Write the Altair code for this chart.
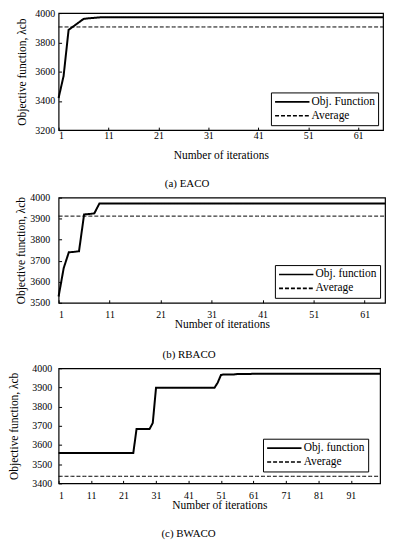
import altair as alt
import pandas as pd

FONT = "Liberation Serif"

# ---- data ----
eaco_obj = [3420, 3570, 3885, 3910, 3935, 3960, 3964, 3967, 3970, 3972,
            3972, 3972, 3972, 3972, 3972, 3972, 3972, 3972, 3972, 3972,
            3972, 3972, 3972, 3972, 3972, 3972, 3972, 3972, 3972, 3972,
            3972, 3972, 3972, 3972, 3972, 3972, 3972, 3972, 3972, 3972,
            3972, 3972, 3972, 3972, 3972, 3972, 3972, 3972, 3972, 3972,
            3972, 3972, 3972, 3972, 3972, 3972, 3972, 3972, 3972, 3972,
            3972, 3972, 3972, 3972, 3972, 3972]
eaco_avg = 3905

rbaco_obj = [3530, 3665, 3740, 3742, 3745, 3920, 3922, 3925, 3972, 3972,
             3972, 3972, 3972, 3972, 3972, 3972, 3972, 3972, 3972, 3972,
             3972, 3972, 3972, 3972, 3972, 3972, 3972, 3972, 3972, 3972,
             3972, 3972, 3972, 3972, 3972, 3972, 3972, 3972, 3972, 3972,
             3972, 3972, 3972, 3972, 3972, 3972, 3972, 3972, 3972, 3972,
             3972, 3972, 3972, 3972, 3972, 3972, 3972, 3972, 3972, 3972,
             3972, 3972, 3972, 3972, 3972]
rbaco_avg = 3912

bwaco_obj = [3558, 3558, 3558, 3558, 3558, 3558, 3558, 3558, 3558, 3558,
             3558, 3558, 3558, 3558, 3558, 3558, 3558, 3558, 3558, 3558,
             3558, 3558, 3558, 3558, 3683, 3683, 3683, 3683, 3683, 3715,
             3898, 3898, 3898, 3898, 3898, 3898, 3898, 3898, 3898, 3898,
             3898, 3898, 3898, 3898, 3898, 3898, 3898, 3898, 3898, 3925,
             3965, 3968, 3968, 3968, 3968, 3970, 3970, 3970, 3970, 3970,
             3972, 3972, 3972, 3972, 3972, 3972, 3972, 3972, 3972, 3972,
             3972, 3972, 3972, 3972, 3972, 3972, 3972, 3972, 3972, 3972,
             3972, 3972, 3972, 3972, 3972, 3972, 3972, 3972, 3972, 3972,
             3972, 3972, 3972, 3972, 3972, 3972, 3972, 3972, 3972, 3972]
bwaco_avg = 3437

y_title = "Objective function, λcb"
x_title = "Number of iterations"


def panel(obj, avg, obj_label, caption, xmax, ymin, ystep, w, h,
          x_label_pad, x_title_pad, y_label_pad, y_title_pad, cap_offset,
          cap_dx, legend_offset):
    n = len(obj)
    iters = list(range(1, n + 1))
    df = pd.DataFrame({
        "iter": iters + iters,
        "val": obj + [avg] * n,
        "series": [obj_label] * n + ["Average"] * n,
    })
    dom = [obj_label, "Average"]
    enc = dict(
        x=alt.X("iter:Q", title=x_title,
                scale=alt.Scale(domain=[1, xmax], nice=False, zero=False),
                axis=alt.Axis(values=list(range(1, xmax, 10)), format="d",
                              grid=False, domain=False, offset=-3, tickSize=3,
                              tickColor="black", labelPadding=x_label_pad,
                              titlePadding=x_title_pad, labelFont=FONT,
                              labelFontSize=10, labelColor="black",
                              titleFont=FONT, titleFontSize=11.5,
                              titleFontWeight="normal", titleColor="black")),
        y=alt.Y("val:Q", title=y_title,
                scale=alt.Scale(domain=[ymin, 4000], nice=False, zero=False),
                axis=alt.Axis(values=list(range(ymin, 4001, ystep)), format="d",
                              grid=False, domain=False, offset=-3, tickSize=3,
                              tickColor="black", labelPadding=y_label_pad,
                              titlePadding=y_title_pad, labelFont=FONT,
                              labelFontSize=10, labelColor="black",
                              titleFont=FONT, titleFontSize=11.5,
                              titleFontWeight="normal", titleColor="black")),
        strokeDash=alt.StrokeDash("series:N", sort=dom,
                                  scale=alt.Scale(domain=dom, range=[[1, 0], [4, 2]]),
                                  legend=alt.Legend(title=None, orient="bottom-right",
                                                    offset=legend_offset)),
    )
    base = alt.Chart(df)
    obj_line = base.transform_filter(
        alt.datum.series == obj_label
    ).mark_line(color="black", strokeWidth=2).encode(**enc)
    avg_line = base.transform_filter(
        alt.datum.series == "Average"
    ).mark_line(color="black", strokeWidth=1).encode(**enc)
    return alt.layer(obj_line, avg_line).properties(
        width=w, height=h,
        title=alt.TitleParams(caption, orient="bottom", font=FONT, fontSize=11,
                              fontWeight="normal", color="black",
                              offset=cap_offset, anchor="middle", dx=cap_dx),
    )


p1 = panel(eaco_obj, eaco_avg, "Obj. Function", "(a) EACO", 66, 3200, 200,
           327, 118, 0, 10, 4, 7, 17, -34, 5)
p2 = panel(rbaco_obj, rbaco_avg, "Obj. function", "(b) RBACO", 65, 3500, 100,
           329, 106, 7, -1, 9, 3, 19, -33, 5)
p3 = panel(bwaco_obj, bwaco_avg, "Obj. function", "(c) BWACO", 100, 3400, 100,
           324, 116, 7, -1, 7, 12, 18, -31, 12)

chart = alt.vconcat(p1, p2, p3, spacing=1).resolve_scale(
    strokeDash="independent"
).resolve_legend(
    strokeDash="independent"
).configure_view(
    stroke="black", strokeWidth=1.2
).configure_legend(
    strokeColor="black", fillColor="white", padding=3, symbolType="stroke",
    symbolSize=1200, clipHeight=13, symbolStrokeColor="black",
    symbolStrokeWidth=1.6, labelFont=FONT, labelFontSize=11.5,
    labelColor="black", rowPadding=1, labelOffset=1, cornerRadius=0
).properties(padding={"left": 0, "top": -3, "right": 0, "bottom": 0})

chart.save("out.html", embed_options={"renderer": "svg", "actions": False})
